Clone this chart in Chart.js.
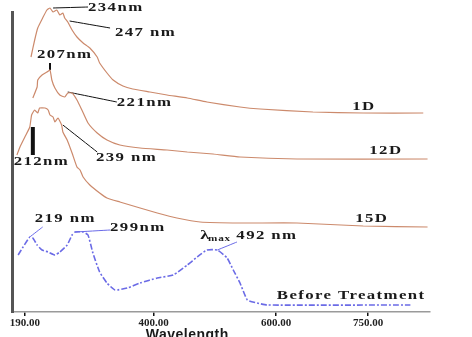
<!DOCTYPE html>
<html>
<head>
<meta charset="utf-8">
<script src="https://cdn.jsdelivr.net/npm/chart.js@4.4.1/dist/chart.umd.min.js"></script>
<style>
  html, body { margin: 0; padding: 0; background: #fff; }
  #wrap { width: 472px; height: 337px; }
</style>
</head>
<body>
<div id="wrap"><canvas id="uvChart"></canvas></div>
<script>
// wavelength (nm) and absorbance (stacked, a.u.)
const nm1D  = [200, 206, 211, 219, 226, 231, 236, 242, 247, 252, 255, 260, 267, 275, 285, 296, 308, 312, 324, 334, 350, 366, 394, 422, 455, 487, 541, 574, 660, 742, 840];
const abs1D = [2.55, 2.72, 2.84, 2.94, 3.02, 3.04, 3.00, 3.02, 2.97, 2.99, 2.94, 2.90, 2.82, 2.75, 2.69, 2.64, 2.55, 2.49, 2.39, 2.32, 2.26, 2.23, 2.20, 2.17, 2.14, 2.10, 2.05, 2.03, 2.00, 1.99, 1.99];

const nm12D  = [203, 210, 211, 218, 226, 231, 234, 239, 247, 255, 260, 267, 275, 283, 293, 308, 324, 345, 378, 422, 455, 497, 541, 634, 847];
const abs12D = [2.14, 2.25, 2.32, 2.37, 2.40, 2.42, 2.32, 2.24, 2.17, 2.15, 2.19, 2.19, 2.12, 2.02, 1.89, 1.79, 1.72, 1.67, 1.64, 1.62, 1.60, 1.58, 1.55, 1.53, 1.53];

const nm15D  = [177, 182, 190, 198, 201, 206, 211, 214, 223, 228, 231, 236, 239, 244, 250, 252, 259, 267, 275, 280, 285, 296, 312, 324, 345, 378, 406, 438, 476, 541, 634, 742, 847];
const abs15D = [1.57, 1.65, 1.75, 1.85, 1.97, 2.02, 1.99, 2.04, 2.04, 2.02, 1.97, 1.95, 1.90, 1.94, 1.87, 1.80, 1.72, 1.59, 1.45, 1.42, 1.35, 1.27, 1.19, 1.14, 1.10, 1.04, 0.99, 0.94, 0.90, 0.89, 0.89, 0.86, 0.85];

const nmBefore  = [179, 187, 198, 203, 210, 218, 228, 239, 247, 259, 267, 272, 285, 293, 301, 312, 324, 337, 357, 378, 406, 432, 455, 471, 487, 504, 520, 530, 541, 553, 569, 585, 819];
const absBefore = [0.57, 0.65, 0.75, 0.74, 0.67, 0.62, 0.60, 0.57, 0.60, 0.67, 0.77, 0.80, 0.80, 0.77, 0.59, 0.40, 0.29, 0.22, 0.24, 0.29, 0.34, 0.37, 0.47, 0.55, 0.62, 0.62, 0.54, 0.42, 0.29, 0.12, 0.09, 0.07, 0.07];

const xTicks = [190, 400, 600, 750];

// peak labels: text, text position, leader line (from -> to), colour
const peakLabels = [
  { text: '234nm',  x: 293, y: 3.04, align: 'left',   line: [[236, 3.04], [293, 3.05]], color: '#111', width: 1 },
  { text: '247 nm', x: 337, y: 2.79, align: 'left',   line: [[263, 2.91], [329, 2.84]], color: '#111', width: 1 },
  { text: '207nm',  x: 255, y: 2.57, align: 'center', line: [[231, 2.49], [231, 2.42]], color: '#111', width: 2 },
  { text: '221nm',  x: 340, y: 2.09, align: 'left',   line: [[260, 2.20], [340, 2.10]], color: '#111', width: 1 },
  { text: '212nm',  x: 217, y: 1.50, align: 'center', line: [[203, 1.85], [203, 1.57]], color: '#111', width: 4 },
  { text: '239 nm', x: 306, y: 1.54, align: 'left',   line: [[252, 1.87], [308, 1.60]], color: '#111', width: 1 },
  { text: '219 nm', x: 206, y: 0.93, align: 'left',   line: [[198, 0.75], [219, 0.85]], color: '#6a6ae8', width: 1 },
  { text: '299nm',  x: 329, y: 0.84, align: 'left',   line: [[272, 0.80], [329, 0.82]], color: '#6a6ae8', width: 1 }
];
const lambdaLabel = { x: 476, y: 0.76, value: ' 492 nm', line: [[504, 0.62], [536, 0.70]] };

const seriesLabels = [
  { text: '1D',  x: 724, y: 2.05 },
  { text: '12D', x: 752, y: 1.61 },
  { text: '15D', x: 729, y: 0.93 },
  { text: 'Before Treatment', x: 601, y: 0.16 }
];

function pts(xs, ys) {
  return xs.map((x, i) => ({ x: x, y: ys[i] }));
}

const brown = '#cc8a6c';
const blue = '#6b6be6';

const datasets = [
  { label: '1D',  data: pts(nm1D, abs1D),  borderColor: brown, borderWidth: 1.2 },
  { label: '12D', data: pts(nm12D, abs12D), borderColor: brown, borderWidth: 1.2 },
  { label: '15D', data: pts(nm15D, abs15D), borderColor: brown, borderWidth: 1.2 },
  { label: 'Before Treatment', data: pts(nmBefore, absBefore), borderColor: blue, borderWidth: 1.6, borderDash: [6, 2, 2, 2] }
];

peakLabels.forEach(p => {
  datasets.push({
    label: p.text,
    data: p.line.map(q => ({ x: q[0], y: q[1] })),
    borderColor: p.color,
    borderWidth: p.width
  });
});
datasets.push({
  label: 'lambda max',
  data: lambdaLabel.line.map(q => ({ x: q[0], y: q[1] })),
  borderColor: blue,
  borderWidth: 1
});

const serif = '"Liberation Serif", "DejaVu Serif", serif';
const stretch = 1.4;

// draws text stretched horizontally, like the scanned figure
function wideText(ctx, text, x, y, align, size, spacing) {
  ctx.save();
  ctx.font = 'bold ' + size + 'px ' + serif;
  ctx.letterSpacing = spacing + 'px';
  ctx.textAlign = 'left';
  const w = ctx.measureText(text).width * stretch;
  let left = x;
  if (align === 'center') left = x - w / 2;
  ctx.translate(left, y);
  ctx.scale(stretch, 1);
  ctx.fillText(text, 0, 0);
  ctx.restore();
  return w;
}

const labelPlugin = {
  id: 'labelPlugin',
  afterDatasetsDraw(chart) {
    const ctx = chart.ctx;
    const xs = chart.scales.x;
    const ys = chart.scales.y;
    ctx.save();
    ctx.fillStyle = '#1a1a1a';
    ctx.textBaseline = 'middle';

    peakLabels.forEach(p => {
      wideText(ctx, p.text, xs.getPixelForValue(p.x), ys.getPixelForValue(p.y), p.align, 12, 1);
    });
    seriesLabels.forEach(s => {
      wideText(ctx, s.text, xs.getPixelForValue(s.x), ys.getPixelForValue(s.y), 'left', 12, 1);
    });

    // lambda max label
    let lx = xs.getPixelForValue(lambdaLabel.x);
    const ly = ys.getPixelForValue(lambdaLabel.y);
    lx += wideText(ctx, '\u03BB', lx, ly, 'left', 13, 0) - 1;
    lx += wideText(ctx, 'max', lx, ly + 3, 'left', 8, 0.5);
    wideText(ctx, lambdaLabel.value, lx, ly, 'left', 12, 1);

    // axis title
    ctx.font = 'bold 14px "Liberation Sans", Arial, sans-serif';
    ctx.letterSpacing = '0.5px';
    ctx.textAlign = 'center';
    ctx.textBaseline = 'top';
    ctx.fillText('Wavelength', xs.getPixelForValue(455), 328);
    ctx.restore();
  }
};

new Chart(document.getElementById('uvChart'), {
  type: 'line',
  data: { datasets: datasets },
  options: {
    responsive: true,
    maintainAspectRatio: false,
    animation: false,
    elements: {
      point: { radius: 0 },
      line: { tension: 0.15, fill: false }
    },
    datasets: { line: { clip: false } },
    layout: { padding: { left: 12, right: 42, top: 12, bottom: 0 } },
    plugins: {
      legend: { display: false },
      tooltip: { enabled: false }
    },
    scales: {
      x: {
        type: 'linear',
        min: 169,
        max: 851,
        afterBuildTicks: axis => { axis.ticks = xTicks.map(v => ({ value: v })); },
        afterFit: axis => { axis.height = 25; },
        border: { color: '#9a9a9a', width: 1.5 },
        grid: { drawOnChartArea: false, tickLength: 4, color: '#111', lineWidth: 1.5 },
        ticks: {
          color: '#222',
          padding: 1,
          font: { family: serif, size: 11, weight: 'bold' },
          callback: v => v.toFixed(2),
          maxRotation: 0
        }
      },
      y: {
        min: 0,
        max: 3.0,
        afterFit: axis => { axis.width = 0; },
        border: { color: '#555', width: 3 },
        grid: { display: false },
        ticks: { display: false }
      }
    }
  },
  plugins: [labelPlugin]
});
</script>
</body>
</html>
